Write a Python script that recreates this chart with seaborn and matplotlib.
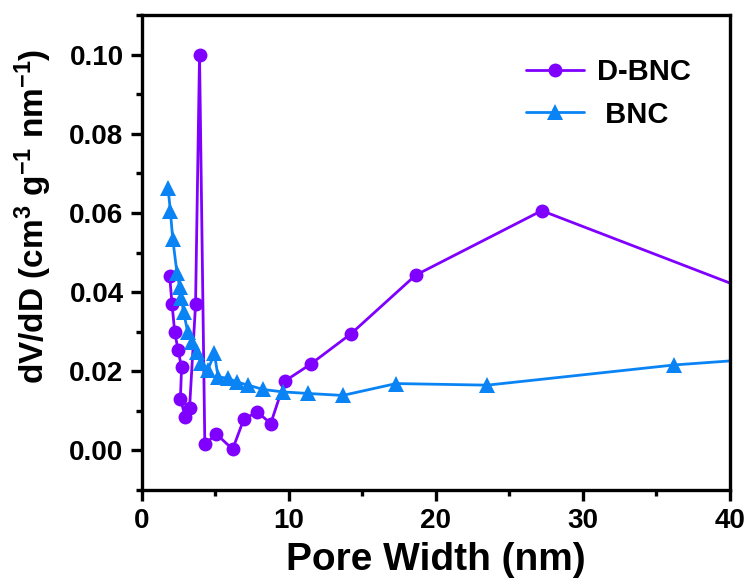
import matplotlib
matplotlib.use("Agg")
import matplotlib.pyplot as plt
import seaborn as sns
import pandas as pd
from matplotlib.ticker import MultipleLocator

# ---- data ----
dbnc_x = [1.91, 2.07, 2.25, 2.48, 2.72, 2.64, 2.97, 3.26, 3.67, 3.94, 4.30, 5.07, 6.19,
          6.96, 7.88, 8.78, 9.73, 11.49, 14.24, 18.63, 27.2, 46.5]
dbnc_y = [0.0441, 0.0370, 0.0300, 0.0254, 0.0210, 0.0131, 0.0084, 0.0106, 0.0369, 0.1000,
          0.0015, 0.0042, 0.0003, 0.0080, 0.0097, 0.0068, 0.0175, 0.0218, 0.0295, 0.0443,
          0.0606, 0.0330]

bnc_x = [1.80, 1.96, 2.12, 2.41, 2.59, 2.70, 2.86, 3.13, 3.42, 3.76, 4.05, 4.50, 4.95,
         5.20, 5.90, 6.46, 7.25, 8.27, 9.60, 11.3, 13.67, 17.3, 23.5, 36.2, 44.0]
bnc_y = [0.0664, 0.0604, 0.0534, 0.0448, 0.0414, 0.0385, 0.0350, 0.0300, 0.0275, 0.0249,
         0.0220, 0.0203, 0.0245, 0.0186, 0.0182, 0.0173, 0.0165, 0.0154, 0.0148, 0.0144,
         0.0139, 0.0169, 0.0165, 0.0216, 0.0237]

labels = ["D-BNC", " BNC"]
colors = ["#7F00FF", "#0A84F5"]
markers = ["o", "^"]

sns.set_style("ticks")
plt.rcParams["font.family"] = ["Liberation Sans", "DejaVu Sans"]
plt.rcParams["font.weight"] = "bold"
plt.rcParams["mathtext.fontset"] = "custom"
plt.rcParams["mathtext.rm"] = "Liberation Sans:bold"
plt.rcParams["mathtext.default"] = "rm"
plt.rcParams["text.color"] = "black"
plt.rcParams["axes.labelcolor"] = "black"
plt.rcParams["xtick.color"] = "black"
plt.rcParams["ytick.color"] = "black"
plt.rcParams["axes.edgecolor"] = "black"

fig = plt.figure(figsize=(7.53, 5.85), dpi=100)
ax = fig.add_axes([0.188, 0.1624, 0.7815, 0.8116])

df1 = pd.DataFrame({"x": dbnc_x, "y": dbnc_y})
df2 = pd.DataFrame({"x": bnc_x, "y": bnc_y})

sns.lineplot(data=df1, x="x", y="y", ax=ax, sort=False, estimator=None,
             color=colors[0], marker=markers[0], markersize=10, linewidth=2.0,
             markeredgewidth=0, label=labels[0])
sns.lineplot(data=df2, x="x", y="y", ax=ax, sort=False, estimator=None,
             color=colors[1], marker=markers[1], markersize=11, linewidth=2.0,
             markeredgewidth=0, label=labels[1])

ax.set_xlim(0, 40)
ax.set_ylim(-0.01, 0.11)
ax.xaxis.set_major_locator(MultipleLocator(10))
ax.xaxis.set_minor_locator(MultipleLocator(5))
ax.yaxis.set_major_locator(MultipleLocator(0.02))
ax.yaxis.set_minor_locator(MultipleLocator(0.01))
ax.yaxis.set_major_formatter(matplotlib.ticker.FormatStrFormatter("%.2f"))

for s in ax.spines.values():
    s.set_linewidth(2.4)
    s.set_visible(True)
    s.set_color("black")
ax.tick_params(which="major", direction="out", length=8, width=2.4, labelsize=20,
               right=False, top=False, pad=5)
ax.tick_params(which="minor", direction="out", length=4.5, width=2.4, right=False, top=False)
for lab in ax.get_xticklabels() + ax.get_yticklabels():
    lab.set_fontweight("bold")

ax.set_xlabel("Pore Width (nm)", fontsize=28, fontweight="bold", labelpad=6)
ax.set_ylabel(r"dV/dD (cm$^{3}$ g$^{-1}$ nm$^{-1}$)", fontsize=24, fontweight="bold")
ax.yaxis.set_label_coords(-0.149, 0.577)

leg = ax.legend(loc="upper right", bbox_to_anchor=(0.978, 0.965), frameon=False,
                prop={"family": "Liberation Sans", "weight": "bold", "size": 21},
                handlelength=2.0, handletextpad=0.45, labelspacing=0.5)

fig.savefig("out.png", dpi=100)
